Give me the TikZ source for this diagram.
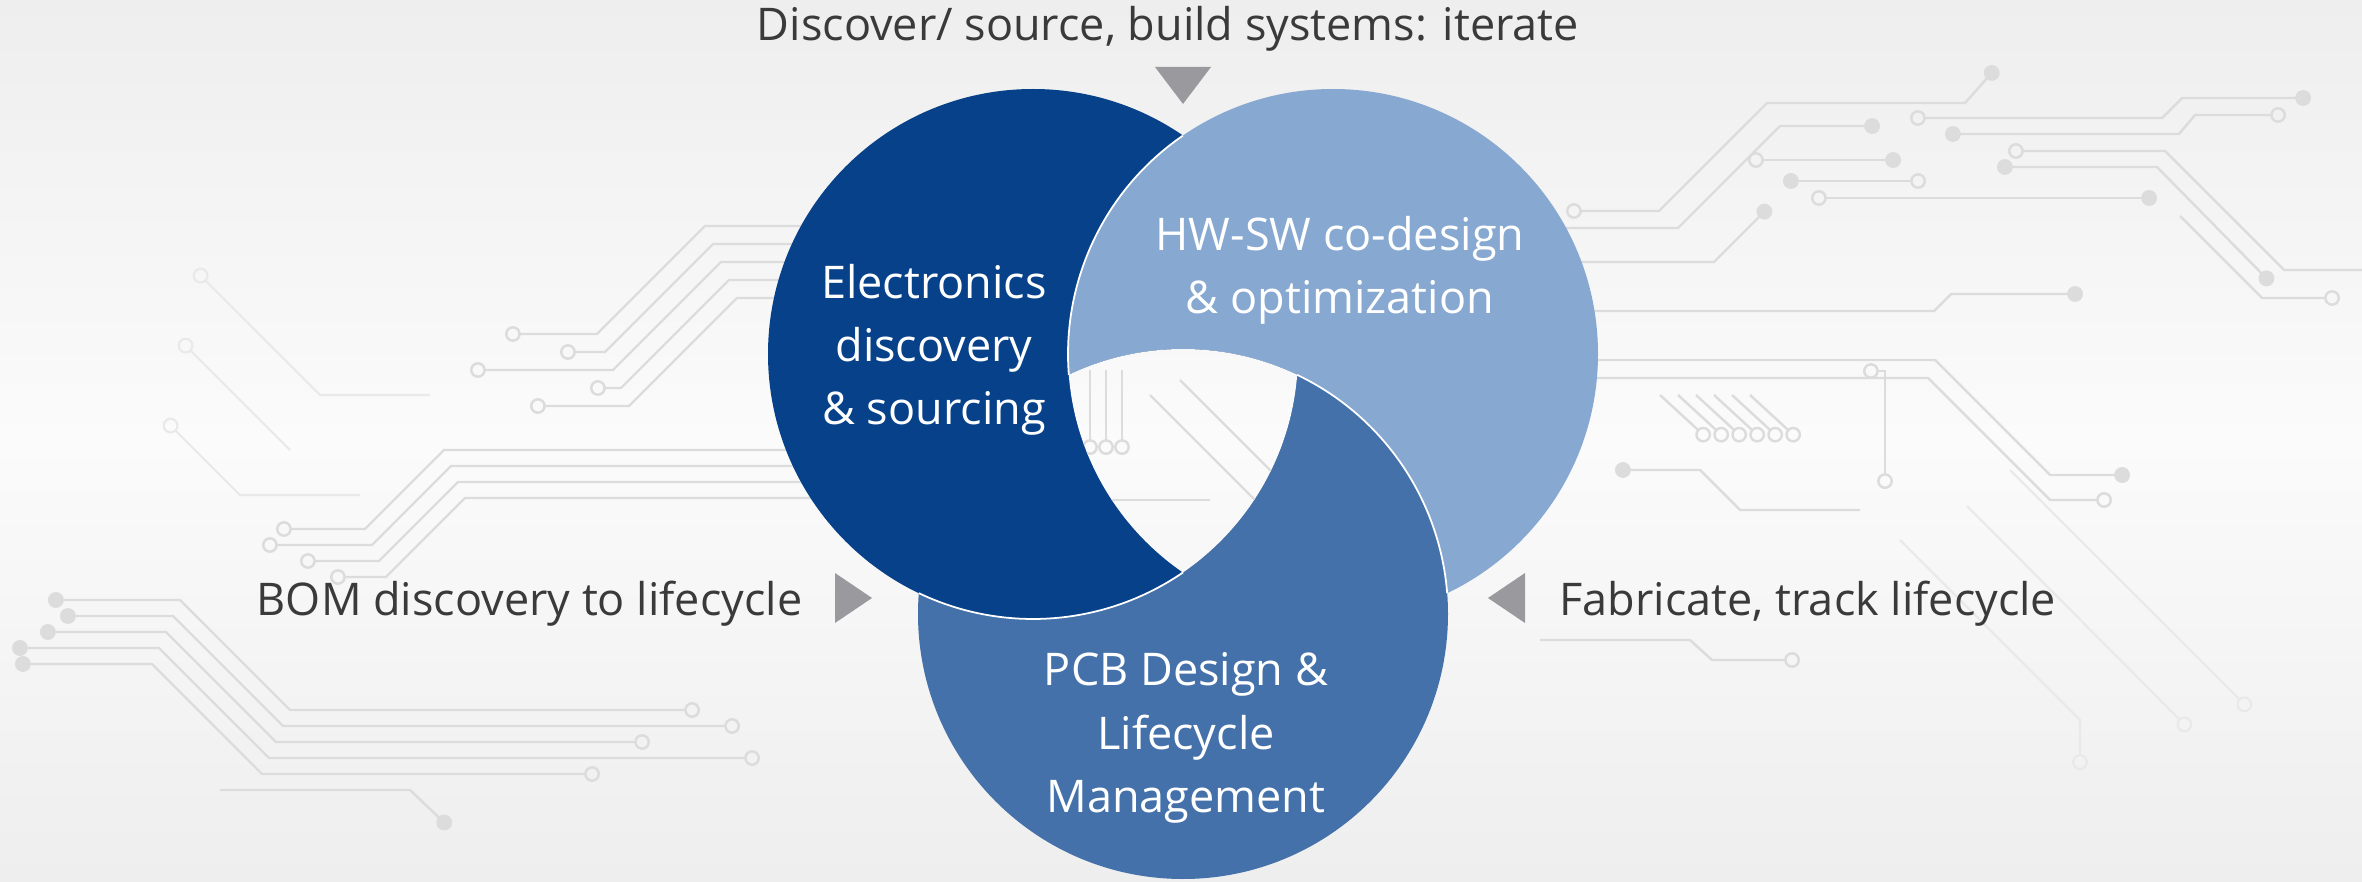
\documentclass[tikz,border=0pt]{standalone}
\usepackage{fontspec}
\setmainfont{Open Sans}
\usetikzlibrary{arrows.meta}
\definecolor{discblue}{RGB}{7,65,137}
\definecolor{hwswblue}{RGB}{135,168,208}
\definecolor{pcbblue}{RGB}{68,113,169}
\definecolor{markgray}{RGB}{154,153,158}
\definecolor{textgray}{RGB}{58,58,58}
\definecolor{tracegray}{RGB}{220,220,220}
\definecolor{faintgray}{RGB}{233,233,233}
\definecolor{bgedge}{RGB}{238,238,238}
\definecolor{bgmid}{RGB}{251,251,251}

\begin{document}
\begin{tikzpicture}[x=0.01cm,y=-0.01cm]
	\tikzset{pad/.tip={Circle[open,length=4.5pt]}, via/.tip={Circle[length=4.5pt]}}
	\tikzstyle{trace} = [draw=tracegray, line width=0.7pt]
	\tikzstyle{faint} = [draw=faintgray, line width=0.6pt]
	\tikzstyle{backdrop} = [top color=bgedge, bottom color=bgedge, middle color=bgmid]
	\tikzstyle{seam} = [draw=white, line width=0.5pt]
	\tikzstyle{marker} = [fill=markgray]
	\tikzstyle{outertext} = [inner sep=0pt, text=textgray, font=\fontsize{12.8}{18}\selectfont]
	\tikzstyle{innertext} = [inner sep=0pt, text=white, align=center, font=\fontsize{12.8}{18}\selectfont]
	
	\useasboundingbox (0,0) rectangle (2362,882);
	\shade[backdrop] (0,0) rectangle (2362,882);
	
	\foreach \i/\e in {0/505,1/560,2/470,3/590,4/530}
		\draw[trace, -{pad}] (850,{226+18*\i}) -- ({705+8*\i},{226+18*\i}) -- ({597+8*\i},{334+18*\i}) -- (\e,{334+18*\i});
	\foreach \i/\s in {0/276,1/262,2/300,3/330}
		\draw[trace, {pad}-] (\s,{529+16*\i}) -- ({365+7*\i},{529+16*\i}) -- ({444+7*\i},{450+16*\i}) -- (850,{450+16*\i});
	\foreach \i/\s/\e in {0/48/700,1/60/740,2/40/650,3/12/760,4/15/600}
		\draw[trace, {via}-{pad}] (\s,{600+16*\i}) -- ({180-7*\i},{600+16*\i}) -- ({290-7*\i},{710+16*\i}) -- (\e,{710+16*\i});
	\draw[trace, -{via}] (220,790) -- (410,790) -- (450,828);
	\draw[faint, {pad}-] (195,270) -- (320,395) -- (430,395);
	\draw[faint, {pad}-] (180,340) -- (290,450);
	\draw[faint, {pad}-] (165,420) -- (240,495) -- (360,495);
	
	\draw[trace, {via}-{pad}] (1997,67) -- (1965,103) -- (1767,103) -- (1659,211) -- (1566,211);
	\draw[trace, {via}-{pad}] (2311,98) -- (2182,98) -- (2162,118) -- (1910,118);
	\draw[trace, {pad}-{via}] (2286,115) -- (2195,115) -- (2179,134) -- (1945,134);
	\draw[trace, {pad}-] (2008,151) -- (2165,151) -- (2284,270) -- (2362,270);
	\draw[trace, {via}-{via}] (1997,167) -- (2157,167) -- (2272,284);
	\draw[trace, {pad}-] (2340,298) -- (2262,298) -- (2180,216);
	\draw[trace, -{via}] (1540,228) -- (1678,228) -- (1780,126) -- (1880,126);
	\draw[trace, {pad}-{via}] (1748,160) -- (1901,160);
	\draw[trace, {via}-{pad}] (1783,181) -- (1926,181);
	\draw[trace, {pad}-{via}] (1811,198) -- (2157,198);
	\draw[trace, -{via}] (1540,262) -- (1714,262) -- (1770,206);
	\draw[trace, {via}-] (2083,294) -- (1951,294) -- (1934,311) -- (1560,311);
	\draw[trace, {pad}-{pad}] (1863,371) -- (1885,371) -- (1885,489);
	\draw[trace, -{via}] (1560,360) -- (1935,360) -- (2050,475) -- (2130,475);
	\draw[trace, -{pad}] (1560,378) -- (1928,378) -- (2050,500) -- (2112,500);
	\foreach \k in {0,...,5}
		\draw[trace, -{pad}] ({1660+18*\k},395) -- ({1709+18*\k},440);
	\draw[trace, -{pad}] (1540,640) -- (1690,640) -- (1712,660) -- (1800,660);
	\draw[trace, {via}-] (1615,470) -- (1700,470) -- (1740,510) -- (1860,510);
	\draw[faint, -{pad}] (1967,506) -- (2190,730);
	\draw[faint, -{pad}] (2010,470) -- (2250,710);
	\draw[faint, -{pad}] (1900,540) -- (2080,720) -- (2080,770);
	
	\coordinate (disc) at (1033,354);
	\coordinate (hwsw) at (1333,354);
	\coordinate (pcb) at (1183,614);
	
	\fill[pcbblue] (pcb) circle[radius=265];
	\fill[discblue] (disc) circle[radius=265];
	\begin{scope}[even odd rule]
		\clip (0,0) rectangle (2362,882) (pcb) circle[radius=265];
		\fill[hwswblue] (hwsw) circle[radius=265];
	\end{scope}
	\begin{scope}
		\clip (disc) circle[radius=265];
		\clip (hwsw) circle[radius=265];
		\clip (pcb) circle[radius=265];
		\shade[backdrop] (0,0) rectangle (2362,882);
		\foreach \k in {0,1,2}
			\draw[trace, -{pad}] ({1090+16*\k},370) -- ({1090+16*\k},455);
		\draw[trace] (1180,380) -- (1290,490);
		\draw[trace] (1150,395) -- (1270,515);
		\draw[trace] (1060,500) -- (1210,500);
	\end{scope}
	\draw[seam] ([shift={(55.5:265)}]disc) arc[start angle=55.5, end angle=115.5, radius=265];
	\draw[seam] ([shift={(-64.5:265)}]pcb) arc[start angle=-64.5, end angle=-4.5, radius=265];
	\draw[seam] ([shift={(175.5:265)}]hwsw) arc[start angle=175.5, end angle=235.5, radius=265];
	
	\coordinate (topmark) at (1183,104);
	\coordinate (leftmark) at (872,598);
	\coordinate (rightmark) at (1488,598);
	\fill[marker] (topmark) -- ++(-28,-37) -- ++(56,0) -- cycle;
	\fill[marker] (leftmark) -- ++(-37,-25) -- ++(0,50) -- cycle;
	\fill[marker] (rightmark) -- ++(37,-25) -- ++(0,50) -- cycle;
	
	\node[innertext] (disctext) at (934,350) {Electronics\\discovery\\\& sourcing};
	\node[innertext] (hwswtext) at (1340,270) {HW-SW co-design\\\& optimization};
	\node[innertext] (pcbtext) at (1186,738) {PCB Design \&\\Lifecycle\\Management};
	\node[outertext, anchor=base] (toptext) at (1168,41) {Discover/ source, build systems: iterate};
	\node[outertext, anchor=base east] (bomtext) at (803,616) {BOM discovery to lifecycle};
	\node[outertext, anchor=base west] (fabtext) at (1559,616) {Fabricate, track lifecycle};
\end{tikzpicture}
\end{document}
